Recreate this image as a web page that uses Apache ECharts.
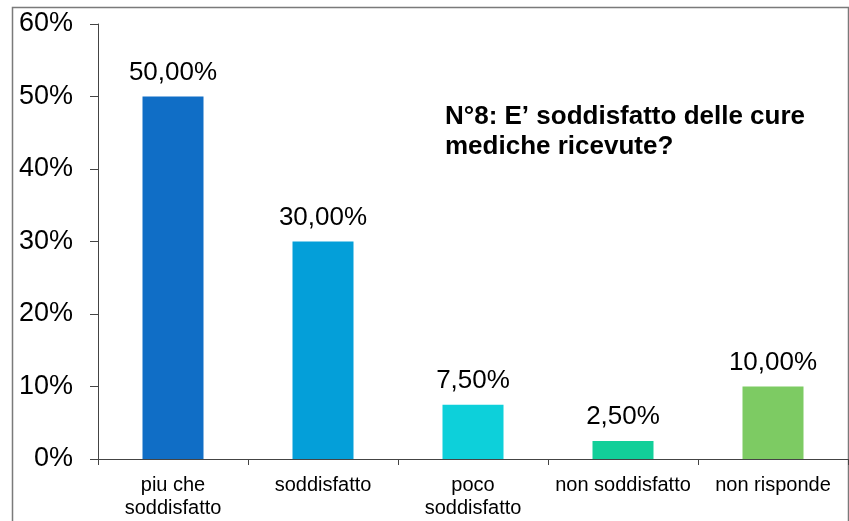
<!DOCTYPE html>
<html>
<head>
<meta charset="utf-8">
<script src="https://cdn.jsdelivr.net/npm/echarts@6/dist/echarts.min.js"></script>
<style>
  html, body { margin: 0; padding: 0; background: #fff; }
  #main { width: 849px; height: 521px; }
</style>
</head>
<body>
<div id="main"></div>
<script>
// data
var categories = ['piu che\nsoddisfatto', 'soddisfatto', 'poco\nsoddisfatto', 'non soddisfatto', 'non risponde'];
var values = [50, 30, 7.5, 2.5, 10];
var barColors = ['#106EC6', '#049FD9', '#0DD0DA', '#12CF99', '#7DCB63'];
var yTicks = [0, 10, 20, 30, 40, 50, 60];
var titleText = 'N°8: E\u2019 soddisfatto delle cure\nmediche ricevute?';

var chart = echarts.init(document.getElementById('main'), null, { renderer: 'canvas' });

var barData = values.map(function (v, i) {
  return { value: v, itemStyle: { color: barColors[i] } };
});

var option = {
  animation: false,
  backgroundColor: '#fff',
  textStyle: { fontFamily: 'Liberation Sans, Arial, sans-serif' },
  graphic: [
    {
      type: 'rect',
      shape: { x: 12.5, y: 7.5, width: 836, height: 520 },
      style: { fill: 'none', stroke: '#7a7a7a', lineWidth: 1.5 },
      silent: true
    },
    {
      type: 'text',
      left: 445,
      top: 102,
      style: {
        text: titleText,
        font: 'bold 26px "Liberation Sans", Arial, sans-serif',
        fill: '#000',
        lineHeight: 30
      }
    }
  ],
  grid: { left: 98, right: 1, top: 24, bottom: 62, containLabel: false },
  xAxis: {
    type: 'category',
    data: categories,
    axisLine: { lineStyle: { color: '#444', width: 1 } },
    axisTick: { show: true, alignWithLabel: false, length: 6, lineStyle: { color: '#444' } },
    axisLabel: {
      interval: 0,
      color: '#000',
      fontSize: 20,
      lineHeight: 23,
      margin: 15,
      fontFamily: 'Liberation Sans, Arial, sans-serif'
    }
  },
  yAxis: {
    type: 'value',
    min: yTicks[0],
    max: yTicks[yTicks.length - 1],
    interval: 10,
    axisLine: { show: true, lineStyle: { color: '#444', width: 1 } },
    axisTick: { show: true, inside: false, length: 8, lineStyle: { color: '#444' } },
    splitLine: { show: false },
    axisLabel: {
      color: '#000',
      fontSize: 27,
      margin: 25,
      fontFamily: 'Liberation Sans, Arial, sans-serif',
      formatter: function (v) { return v + '%'; }
    }
  },
  series: [{
    type: 'bar',
    data: barData,
    barWidth: 61,
    label: {
      show: true,
      position: 'top',
      distance: 11,
      color: '#000',
      fontSize: 26,
      fontFamily: 'Liberation Sans, Arial, sans-serif',
      formatter: function (p) { return p.value.toFixed(2).replace('.', ',') + '%'; }
    }
  }]
};

chart.setOption(option);
</script>
</body>
</html>
